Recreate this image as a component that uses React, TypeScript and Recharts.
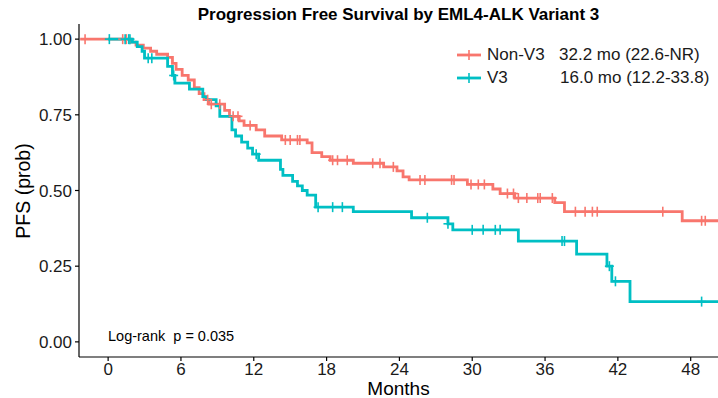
import React from 'react';
import { ComposedChart, Line, Scatter, XAxis, YAxis } from 'recharts';

// Kaplan-Meier step points: time in months, survival probability from that time on
const nonV3Times = [-2.3, 1.9, 2.3, 2.9, 3.5, 4.0, 4.9, 5.3, 5.6, 6.1, 6.6, 7.1, 7.5, 7.9, 8.3, 9.6, 10.0, 10.8, 11.2, 12.2, 12.9, 14.3, 16.4, 16.8, 17.6, 18.3, 20.2, 22.7, 23.8, 24.3, 24.8, 29.6, 31.7, 32.3, 33.5, 36.8, 37.6, 47.3, 50.3];
const nonV3Surv = [1.0, 0.99, 0.98, 0.97, 0.96, 0.95, 0.94, 0.92, 0.9, 0.88, 0.865, 0.84, 0.82, 0.8, 0.785, 0.765, 0.745, 0.73, 0.715, 0.7, 0.68, 0.667, 0.657, 0.625, 0.612, 0.6, 0.59, 0.578, 0.565, 0.545, 0.535, 0.52, 0.505, 0.49, 0.475, 0.46, 0.43, 0.4, 0.4];
const nonV3Censored = [-1.9, 1.2, 1.5, 8.2, 8.5, 9.2, 10.3, 10.7, 11.7, 14.6, 15.0, 15.6, 15.8, 18.5, 18.9, 19.7, 21.8, 22.4, 23.5, 25.7, 26.1, 28.3, 28.5, 29.9, 30.5, 31.0, 32.9, 33.4, 33.8, 34.5, 35.4, 35.6, 36.6, 38.5, 39.3, 39.9, 40.3, 45.7, 48.9, 49.2];

const v3Times = [0, 2.0, 2.4, 2.8, 3.0, 4.9, 5.3, 5.5, 6.7, 7.8, 8.1, 8.9, 9.2, 10.2, 10.5, 11.0, 11.5, 11.9, 12.4, 14.2, 14.4, 15.2, 15.6, 16.0, 16.4, 17.1, 20.2, 25.0, 28.0, 28.4, 33.8, 38.6, 41.1, 41.5, 43.0, 50.3];
const v3Surv = [1.0, 0.99, 0.975, 0.96, 0.937, 0.91, 0.88, 0.855, 0.835, 0.81, 0.8, 0.78, 0.745, 0.7, 0.68, 0.66, 0.64, 0.62, 0.6, 0.57, 0.55, 0.53, 0.515, 0.5, 0.485, 0.445, 0.43, 0.41, 0.39, 0.37, 0.333, 0.29, 0.25, 0.2, 0.133, 0.133];
const v3Censored = [0.1, 1.4, 1.7, 1.8, 3.3, 3.6, 5.4, 12.2, 17.3, 18.5, 19.3, 26.3, 28.0, 30.0, 30.9, 31.9, 32.3, 37.4, 37.6, 41.3, 41.8, 48.9];

const xTicks = [0, 6, 12, 18, 24, 30, 36, 42, 48];
const yTicks = [0, 0.25, 0.5, 0.75, 1.0];

const groups = ['Non-V3', 'V3'];
const medians = ['32.2 mo (22.6-NR)', '16.0 mo (12.2-33.8)'];
const colors = ['#F8766D', '#00BFC4'];

const toSteps = (times: number[], surv: number[]) => times.map((t, i) => ({ t, s: surv[i] }));

// survival value of the step curve at a given time
const survAt = (times: number[], surv: number[], t: number) => {
  let s = surv[0];
  for (let i = 0; i < times.length; i++) {
    if (times[i] <= t) s = surv[i];
  }
  return s;
};

const toMarks = (cens: number[], times: number[], surv: number[]) =>
  cens.map((t) => ({ t, s: survAt(times, surv, t) }));

const nonV3Data = toSteps(nonV3Times, nonV3Surv);
const v3Data = toSteps(v3Times, v3Surv);
const nonV3Marks = toMarks(nonV3Censored, nonV3Times, nonV3Surv);
const v3Marks = toMarks(v3Censored, v3Times, v3Surv);

const FONT = '"Liberation Sans", Arial, Helvetica, sans-serif';

const crossShape = (color: string) => (props: any) => {
  const { cx, cy } = props;
  return (
    <g>
      <line x1={cx - 4.5} x2={cx + 4.5} y1={cy} y2={cy} stroke={color} strokeWidth={1.6} />
      <line x1={cx} x2={cx} y1={cy - 5} y2={cy + 5} stroke={color} strokeWidth={1.6} />
    </g>
  );
};

const fmtY = (v: number) => v.toFixed(2);

export default function App() {
  return (
    <div style={{ position: 'absolute', left: 0, top: 0, width: 718, height: 398, overflow: 'hidden', background: '#fff', fontFamily: FONT }}>
      <ComposedChart width={718} height={398} margin={{ top: 24, right: 0, bottom: 0, left: 0 }}>
        <XAxis
          type="number"
          dataKey="t"
          domain={[-2.4, 50.25]}
          allowDataOverflow
          ticks={xTicks}
          height={41}
          tickSize={4}
          tickMargin={2}
          stroke="#000"
          axisLine={{ stroke: '#000', strokeWidth: 1.2 }}
          tickLine={{ stroke: '#000', strokeWidth: 1.2 }}
          tick={{ fill: '#1a1a1a', fontSize: 17, fontFamily: FONT }}
        />
        <YAxis
          type="number"
          domain={[-0.05, 1.05]}
          allowDataOverflow
          ticks={yTicks}
          tickFormatter={fmtY}
          width={79}
          tickSize={4}
          tickMargin={3}
          stroke="#000"
          axisLine={{ stroke: '#000', strokeWidth: 1.2 }}
          tickLine={{ stroke: '#000', strokeWidth: 1.2 }}
          tick={{ fill: '#1a1a1a', fontSize: 17, fontFamily: FONT }}
        />
        <Line data={nonV3Data} dataKey="s" type="stepAfter" stroke={colors[0]} strokeWidth={2.8} dot={false} activeDot={false} isAnimationActive={false} />
        <Line data={v3Data} dataKey="s" type="stepAfter" stroke={colors[1]} strokeWidth={2.8} dot={false} activeDot={false} isAnimationActive={false} />
        <Scatter data={nonV3Marks} dataKey="s" shape={crossShape(colors[0])} isAnimationActive={false} />
        <Scatter data={v3Marks} dataKey="s" shape={crossShape(colors[1])} isAnimationActive={false} />
      </ComposedChart>

      <div style={{ position: 'absolute', left: 79, width: 639, top: 5, textAlign: 'center', fontWeight: 'bold', fontSize: 17, color: '#000' }}>
        Progression Free Survival by EML4-ALK Variant 3
      </div>

      {groups.map((g, i) => (
        <div key={g} style={{ position: 'absolute', left: 455, top: 44 + i * 23, height: 22, width: 263, fontSize: 17, color: '#1a1a1a', whiteSpace: 'nowrap' }}>
          <svg width={28} height={22} style={{ position: 'absolute', left: 0, top: 0 }}>
            <line x1={2} x2={26} y1={11} y2={11} stroke={colors[i]} strokeWidth={2.8} />
            <line x1={14} x2={14} y1={6} y2={16} stroke={colors[i]} strokeWidth={1.6} />
          </svg>
          <span style={{ position: 'absolute', left: 32, top: 1 }}>{g}</span>
          <span style={{ position: 'absolute', left: i === 0 ? 104 : 105, top: 1 }}>{medians[i]}</span>
        </div>
      ))}

      <div style={{ position: 'absolute', left: 108, top: 328, fontSize: 14.5, color: '#000', whiteSpace: 'pre' }}>
        {'Log-rank  p = 0.035'}
      </div>

      <div style={{ position: 'absolute', left: 79, width: 639, top: 379, textAlign: 'center', fontSize: 19, lineHeight: '19px', color: '#000' }}>
        Months
      </div>

      <div style={{ position: 'absolute', left: 23, top: 191, transform: 'translate(-50%, -50%) rotate(-90deg)', fontSize: 19.5, color: '#000', whiteSpace: 'nowrap' }}>
        PFS (prob)
      </div>
    </div>
  );
}
